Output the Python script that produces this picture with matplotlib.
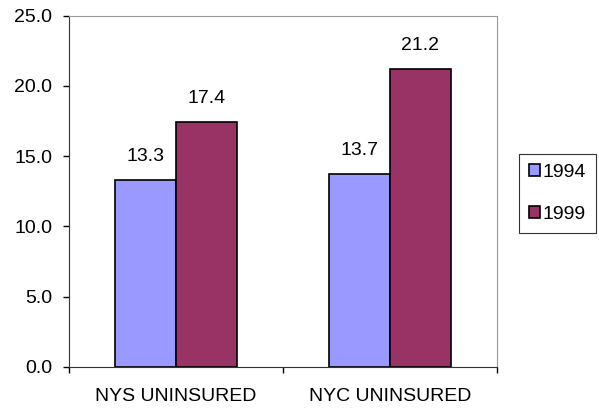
import matplotlib
matplotlib.use("Agg")
import matplotlib.pyplot as plt
import numpy as np

plt.rcParams['font.family'] = ['Liberation Sans', 'DejaVu Sans']

categories = ["NYS UNINSURED", "NYC UNINSURED"]
years = ["1994", "1999"]
v1994 = [13.3, 13.7]
v1999 = [17.4, 21.2]
yticks = [0, 5, 10, 15, 20, 25]

fig = plt.figure(figsize=(5.99, 4.11), dpi=100)
ax = fig.add_axes([69/599, 1 - 366.7/411, (497 - 69)/599, (366.7 - 15.7)/411])

x = np.arange(len(categories))
w = 0.285
b1 = ax.bar(x - w/2, v1994, w, color="#9999FF", edgecolor="black", linewidth=1.2, label=years[0])
b2 = ax.bar(x + w/2, v1999, w, color="#993366", edgecolor="black", linewidth=1.2, label=years[1])

for bars, vals in [(b1, v1994), (b2, v1999)]:
    for r, v in zip(bars, vals):
        ax.annotate("%.1f" % v, (r.get_x() + r.get_width()/2, v), xytext=(0, 17),
                    textcoords="offset points", ha="center", va="center", fontsize=14)

ax.set_xlim(-0.5, 1.5)
ax.set_ylim(0, 25)
ax.set_yticks(yticks)
ax.set_yticklabels(["%.1f" % t for t in yticks], fontsize=14)
ax.tick_params(axis="y", direction="out", length=4, width=1, pad=8)

# category boundaries get ticks, labels sit in between
ax.set_xticks([-0.5, 0.5, 1.5])
ax.set_xticklabels([])
ax.tick_params(axis="x", which="major", direction="out", length=4, width=1)
ax.set_xticks(x, minor=True)
ax.set_xticklabels(categories, minor=True, fontsize=14)
ax.tick_params(axis="x", which="minor", length=0, pad=15)

ax.spines["left"].set_color("#333333")
ax.spines["bottom"].set_color("#333333")
ax.spines["top"].set_color("#999999")
ax.spines["right"].set_color("#999999")

leg = fig.legend(loc="upper left", bbox_to_anchor=(519/599, 1 - 154/411), borderaxespad=0,
                 fancybox=False, edgecolor="black", fontsize=14, handlelength=0.57,
                 handleheight=0.57, handletextpad=0.15, labelspacing=1.3, borderpad=0.5)
leg.get_frame().set_linewidth(0.8)

fig.savefig("out.png", dpi=100)
